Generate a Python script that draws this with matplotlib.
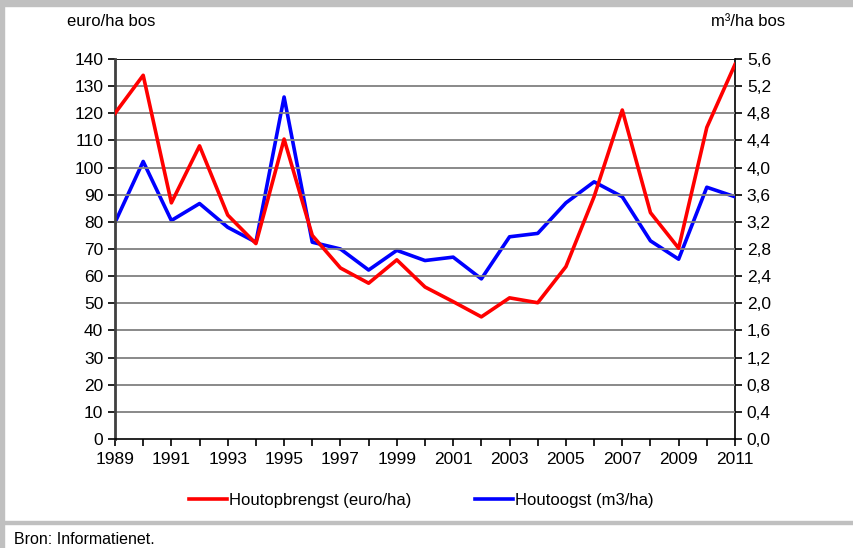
import numpy as np
import matplotlib.pyplot as plt
from matplotlib.patches import Rectangle
from matplotlib.lines import Line2D

plt.rcParams['font.family'] = ['Liberation Sans', 'DejaVu Sans']

years = list(range(1989, 2012))
opbrengst = [120, 134, 87, 108, 82.5, 72, 110.5, 75, 63, 57.4, 66, 56,
             50.6, 45, 52, 50.2, 63.5, 89.3, 121.2, 83.4, 70.3, 114.8, 138]
oogst = [3.19, 4.09, 3.22, 3.47, 3.12, 2.9, 5.04, 2.9, 2.8, 2.49, 2.78, 2.63,
         2.68, 2.36, 2.98, 3.03, 3.48, 3.79, 3.57, 2.92, 2.65, 3.71, 3.57]
left_ticks = list(range(0, 141, 10))
right_ticks = [i * 0.4 for i in range(15)]
right_labels = [f"{v:.1f}".replace('.', ',') for v in right_ticks]

fig = plt.figure(figsize=(8.54, 5.48), dpi=100)
W, H = 854, 548

# grey frame pieces
fig.patches.append(Rectangle((0, 1 - 6 / H), 1, 6 / H, transform=fig.transFigure,
                             color='#c0c0c0', zorder=0))
fig.patches.append(Rectangle((0, 0), 4 / W, 1, transform=fig.transFigure,
                             color='#c0c0c0', zorder=0))
fig.patches.append(Rectangle((4 / W, 1 - 524 / H), 1, 3 / H, transform=fig.transFigure,
                             color='#c0c0c0', zorder=0))

ax = fig.add_axes([115 / W, 1 - 439 / H, 620 / W, 380 / H])
ax2 = ax.twinx()

ax.plot(years, opbrengst, color='#ff0000', lw=2.6, zorder=3)
ax2.plot(years, oogst, color='#0000ff', lw=2.6, zorder=3)
ax.set_zorder(ax2.get_zorder() + 1)
ax.patch.set_visible(False)

ax.set_xlim(1989, 2011)
ax.set_ylim(0, 140)
ax2.set_ylim(0, 5.6)
ax.set_yticks(left_ticks)
ax2.set_yticks(right_ticks)
ax2.set_yticklabels(right_labels)
ax.set_xticks(years)
ax.set_xticklabels([str(y) if (y - 1989) % 2 == 0 else '' for y in years])

for v in left_ticks[1:]:
    ax.axhline(v, color='#808080' if v < 140 else 'black', lw=1.3, zorder=1)

for a in (ax, ax2):
    a.tick_params(direction='out', length=5, width=1.2, labelsize=12.5, colors='black')
    for s in a.spines.values():
        s.set_visible(False)
ax.spines['left'].set_visible(True)
ax.spines['left'].set_color('#404040')
ax.spines['left'].set_linewidth(2)
ax.spines['bottom'].set_visible(True)
ax.spines['bottom'].set_linewidth(1.2)
ax2.spines['right'].set_visible(True)
ax2.spines['right'].set_linewidth(1.2)
ax.tick_params(axis='y', left=True, right=False)
ax2.tick_params(axis='y', right=True)
ax.tick_params(axis='x', pad=4)

fig.text(67 / W, 1 - 22 / H, 'euro/ha bos', fontsize=12, va='center', ha='left')
fig.text(785 / W, 1 - 22 / H, 'm\u00b3/ha bos', fontsize=12, va='center', ha='right')

handles = [Line2D([], [], color='#ff0000', lw=2.6),
           Line2D([], [], color='#0000ff', lw=2.6)]
fig.legend(handles, ['Houtopbrengst (euro/ha)', 'Houtoogst (m3/ha)'],
           loc='center', bbox_to_anchor=(421 / W, 1 - 500 / H), ncol=2,
           frameon=False, fontsize=12, handlelength=2.3, handletextpad=0.1,
           columnspacing=3.8)

fig.text(14 / W, 1 - 539 / H, 'Bron: Informatienet.', fontsize=11.5, va='center', ha='left')

fig.savefig('out.png', dpi=100)
